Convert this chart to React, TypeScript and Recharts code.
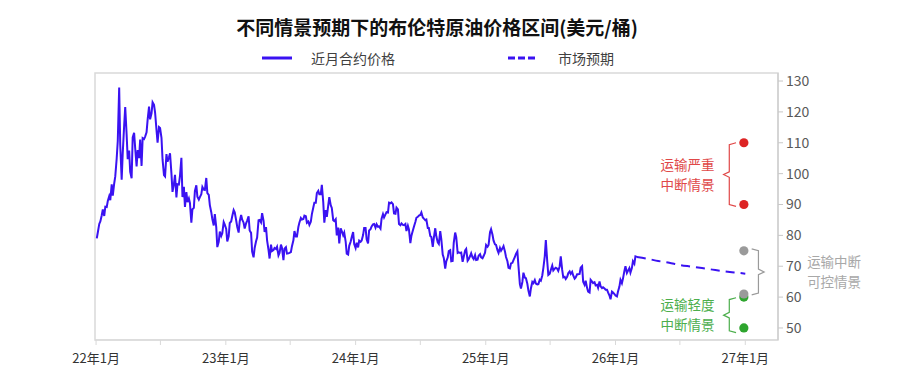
import React from 'react';
import { ComposedChart, Line, Scatter, XAxis, YAxis, ReferenceArea, ReferenceDot } from 'recharts';

const FONT = '"Noto Sans CJK SC", "Noto Sans", sans-serif';

// 布伦特近月合约价格：每周两个点（周一、周四），第一周从 2022-01-03 开始
const priceStart = '2022-01-03';
const prices2022 = [
  79.0, 81.0, 83.7, 84.5, 86.5, 88.4, 86.3, 89.3, 89.2, 91.1,
  92.7, 91.4, 96.5, 92.9, 96.8, 99.1, 104.9, 110.5,
  127.9, 109.3, 98.0, 106.6, 115.6, 121.6, 112.5, 104.7,
  107.5, 100.6, 98.5, 111.7, 113.2, 108.3, 102.3, 107.6,
  105.0, 111.0, 102.5, 111.5, 111.2, 112.0, 113.4, 117.4, 121.7, 117.6,
  119.5, 123.1, 122.3, 119.8, 114.1, 110.0, 115.1, 114.8,
  111.6, 104.6, 99.5, 99.1, 106.3, 103.9, 105.2, 106.6,
  100.0, 94.1, 96.7, 99.6, 92.3, 96.6, 96.5, 99.3, 105.1, 92.4,
  95.7, 89.2, 94.0, 90.8, 92.0, 90.5, 84.1, 88.5,
  88.9, 94.4, 96.2, 92.5, 91.6, 92.4, 93.3, 95.7, 94.8, 94.7,
  98.6, 93.7, 93.1, 89.8, 87.5, 85.3, 83.2, 86.9,
  82.7, 76.2, 77.9, 81.2, 79.8, 80.7, 84.3, 83.5,
];
const prices2023 = [
  82.1, 78.0, 79.7, 84.0, 84.5, 86.2, 88.2, 87.5, 84.9, 82.8,
  80.9, 84.5, 86.6, 85.1, 84.1, 82.2, 83.9, 84.8,
  86.2, 81.6, 80.8, 74.7, 72.9, 75.9, 78.1, 79.3,
  84.9, 85.0, 84.2, 87.2, 84.8, 81.1, 82.7, 78.4,
  75.3, 72.5, 77.0, 74.9, 75.2, 75.9, 75.6, 76.3, 73.5, 74.3,
  77.0, 75.9, 72.0, 75.7, 76.2, 74.1, 74.2, 74.3,
  74.6, 76.5, 78.4, 81.4, 79.6, 79.6, 82.7, 84.2, 85.6, 85.1,
  85.3, 86.4, 86.2, 84.1, 84.5, 83.4, 84.4, 86.9,
  89.0, 90.6, 90.6, 93.7, 94.4, 93.3, 93.3, 96.4,
  90.7, 84.1, 88.2, 86.0, 89.7, 92.4, 89.8, 88.9, 84.9, 84.6,
  85.2, 80.0, 82.5, 77.4, 82.3, 81.4, 80.0, 80.9,
  78.0, 74.1, 73.8, 76.6, 77.9, 79.4, 81.1, 77.2,
];
const prices2024 = [
  75.9, 77.6, 76.1, 78.3, 77.9, 78.3, 80.1, 82.4, 82.4, 78.7,
  77.4, 81.6, 82.0, 82.9, 83.6, 83.7, 82.5, 83.6,
  82.8, 82.9, 82.2, 85.4, 86.9, 85.8, 86.8, 87.5,
  87.4, 90.6, 90.4, 90.7, 90.1, 87.1, 87.0, 89.0, 88.4, 83.7,
  83.3, 83.9, 83.4, 83.3, 83.7, 81.4, 83.1, 81.9,
  77.5, 79.9, 81.6, 82.8, 84.3, 85.7, 86.0, 86.4,
  86.6, 87.4, 85.8, 85.4, 84.9, 85.1, 82.4, 82.4, 79.8, 79.5,
  76.3, 79.2, 82.3, 79.7, 77.7, 77.2, 81.4, 78.8,
  73.8, 72.7, 69.2, 71.6, 72.8, 74.9, 75.2, 71.6, 71.7, 77.6,
  80.9, 79.4, 74.3, 74.5, 74.3, 74.4, 71.4, 73.0,
  75.1, 75.6, 71.8, 72.3, 73.3, 74.2, 72.8, 72.3,
  73.6, 72.0, 72.1, 73.4, 73.9, 72.9, 72.6, 73.3, 74.4, 76.9,
];
const prices2025 = [
  76.3, 76.9, 81.0, 82.0, 80.2, 78.3, 77.1, 76.9,
  75.2, 74.3, 75.9, 75.0, 75.8, 76.5, 74.8, 73.0,
  71.6, 69.5, 69.3, 70.9, 71.1, 72.0, 73.0, 74.0, 74.8, 70.1,
  64.2, 62.8, 64.9, 67.9, 66.3, 66.1, 64.3, 62.1,
  60.2, 62.8, 64.9, 64.5, 65.5, 64.4, 64.1, 64.2,
  65.6, 65.3, 67.0, 69.4, 73.2, 78.5, 71.5, 67.2, 67.6, 68.8,
  70.2, 68.6, 69.2, 69.5, 69.2, 68.5, 70.0, 73.2,
  68.8, 66.4, 66.6, 65.9, 66.6, 67.7, 68.3, 67.5,
  68.2, 67.0, 66.0, 66.4, 67.4, 67.4, 67.5, 69.5, 70.0, 65.0,
  64.0, 65.3, 63.0, 61.8, 61.5, 65.6, 65.0, 64.5,
  64.8, 63.8, 64.0, 63.0, 65.1, 63.5, 62.9, 63.2,
  62.8, 62.4, 62.4, 61.5, 60.5, 59.3, 61.8, 61.5, 61.0, 60.5,
];
const prices2026 = [
  60.2, 61.8, 63.4, 65.6, 64.5, 66.0, 68.5, 70.0,
  67.8, 68.5, 69.4, 67.9, 69.4, 71.6, 70.8, 73.2,
  73.0,
];

// 市场预期（远期曲线）
const forecastDates = [
  '2026-03-02', '2026-04-01', '2026-05-01', '2026-06-01', '2026-07-01', '2026-08-01',
  '2026-09-01', '2026-10-01', '2026-11-01', '2026-12-01', '2027-01-01',
];
const forecastValues = [73.0, 72.4, 71.7, 71.1, 70.4, 69.9, 69.4, 68.9, 68.4, 68.0, 67.6];

// 情景区间
const scenarioDate = '2026-12-28';
const severeValues = [110, 90];
const controlledValues = [75, 61];
const mildValues = [60, 50];

const yTicks = [50, 60, 70, 80, 90, 100, 110, 120, 130];
const xTickDates = [
  '2022-01-01', '2022-07-01', '2023-01-01', '2023-07-01', '2024-01-01', '2024-07-01',
  '2025-01-01', '2025-07-01', '2026-01-01', '2026-07-01', '2027-01-01',
];

const DAY = 86400000;
const ORIGIN = Date.parse('2022-01-01');
const dayOf = (s: string) => (Date.parse(s) - ORIGIN) / DAY;

const X_MIN = -3;
const X_MAX = 1918;
const Y_MIN = 46.1;
const Y_MAX = 132.6;

const LINE_BLUE = '#3a12f2';
const RED = '#dd2424';
const RED_TEXT = '#e04848';
const GRAY = '#9a9a9a';
const GRAY_TEXT = '#a8a8a8';
const GREEN = '#2ea52e';
const GREEN_TEXT = '#4cae4c';

const allPrices = [...prices2022, ...prices2023, ...prices2024, ...prices2025, ...prices2026];
const startDay = dayOf(priceStart);
const priceData = allPrices.map((y, i) => ({ x: startDay + Math.floor(i / 2) * 7 + (i % 2) * 3, y }));
const forecastData = forecastDates.map((d, i) => ({ x: dayOf(d), y: forecastValues[i] }));

const sx = dayOf(scenarioDate);
const pts = (vals: number[]) => vals.map((y) => ({ x: sx, y }));

// 花括号：dir = -1 在点的左侧，1 在右侧（单位：天）
const brace = (top: number, bottom: number, dir: number) => {
  const hook = sx + dir * 22;
  const vert = sx + dir * 41;
  const tip = sx + dir * 57;
  const mid = (top + bottom) / 2;
  return [
    { x: hook, y: top },
    { x: vert, y: top - 0.6 },
    { x: vert, y: mid + 0.9 },
    { x: tip, y: mid },
    { x: vert, y: mid - 0.9 },
    { x: vert, y: bottom + 0.6 },
    { x: hook, y: bottom },
  ];
};

const severeBrace = brace(110, 89.4, -1);
const controlledBrace = brace(75.6, 60.7, 1);
const mildBrace = brace(59.8, 48.5, -1);

const dot = (color: string) => (props: any) => (
  <circle cx={props.cx} cy={props.cy} r={4.6} fill={color} />
);

const label = (lines: string[], color: string, side: 'left' | 'right') => (props: any) => {
  const { cx, cy } = props;
  const x = side === 'left' ? cx - 9 : cx + 43;
  const anchor = side === 'left' ? 'end' : 'start';
  return (
    <g>
      <text x={x} y={cy - 5} textAnchor={anchor} fill={color} fontSize={13.5} fontFamily={FONT}>{lines[0]}</text>
      <text x={x} y={cy + 15} textAnchor={anchor} fill={color} fontSize={13.5} fontFamily={FONT}>{lines[1]}</text>
    </g>
  );
};

const App: React.FC = () => {
  return (
    <div style={{ position: 'absolute', left: 0, top: 0, width: 900, height: 388, background: '#fff', fontFamily: FONT }}>
      <div style={{ position: 'absolute', left: 0, top: 14, width: 874, textAlign: 'center', fontSize: 19, fontWeight: 600, color: '#111', lineHeight: '26px' }}>
        不同情景预期下的布伦特原油价格区间(美元/桶)
      </div>
      <svg style={{ position: 'absolute', left: 262, top: 52 }} width={32} height={12}>
        <line x1={0} y1={6} x2={30} y2={6} stroke={LINE_BLUE} strokeWidth={3} />
      </svg>
      <div style={{ position: 'absolute', left: 311, top: 48, fontSize: 14, color: '#404040', lineHeight: '20px' }}>近月合约价格</div>
      <svg style={{ position: 'absolute', left: 508, top: 52 }} width={32} height={12}>
        <line x1={0} y1={6} x2={30} y2={6} stroke={LINE_BLUE} strokeWidth={3} strokeDasharray="7 3" />
      </svg>
      <div style={{ position: 'absolute', left: 558, top: 48, fontSize: 14, color: '#404040', lineHeight: '20px' }}>市场预期</div>

      <div style={{ position: 'absolute', left: 0, top: 0 }}>
        <ComposedChart width={900} height={388} margin={{ top: 73, right: 72, left: 95, bottom: 18 }}>
          <XAxis
            type="number"
            dataKey="x"
            domain={[X_MIN, X_MAX]}
            ticks={xTickDates.map(dayOf)}
            tickFormatter={(v: number) => {
              const d = new Date(ORIGIN + v * DAY);
              if (d.getUTCMonth() !== 0) return '';
              return `${String(d.getUTCFullYear()).slice(2)}年1月`;
            }}
            height={30}
            tickSize={5}
            tickMargin={9}
            axisLine={{ stroke: '#d9d9d9' }}
            tickLine={{ stroke: '#d9d9d9' }}
            tick={{ fill: '#333', fontSize: 13, fontFamily: FONT }}
            allowDataOverflow
          />
          <YAxis
            type="number"
            orientation="right"
            domain={[Y_MIN, Y_MAX]}
            ticks={yTicks}
            width={50}
            tickSize={5}
            tickMargin={3}
            axisLine={{ stroke: '#c8c8c8' }}
            tickLine={{ stroke: '#c8c8c8' }}
            tick={{ fill: '#595959', fontSize: 14, fontFamily: FONT }}
            allowDataOverflow
          />
          <ReferenceArea x1={X_MIN} x2={X_MAX} y1={Y_MIN} y2={Y_MAX} fill="none" stroke="#d9d9d9" strokeWidth={1.5} />
          <Line data={priceData} dataKey="y" type="linear" stroke={LINE_BLUE} strokeWidth={2} dot={false} isAnimationActive={false} />
          <Line data={forecastData} dataKey="y" type="monotone" stroke={LINE_BLUE} strokeWidth={2} strokeDasharray="9 6" dot={false} isAnimationActive={false} />

          <Line data={severeBrace} dataKey="y" type="linear" stroke={RED_TEXT} strokeWidth={1.2} dot={false} isAnimationActive={false} />
          <Line data={controlledBrace} dataKey="y" type="linear" stroke={GRAY} strokeWidth={1.2} dot={false} isAnimationActive={false} />
          <Line data={mildBrace} dataKey="y" type="linear" stroke={GREEN_TEXT} strokeWidth={1.2} dot={false} isAnimationActive={false} />

          <Scatter data={pts(severeValues)} dataKey="y" shape={dot(RED)} isAnimationActive={false} />
          <Scatter data={pts(mildValues)} dataKey="y" shape={dot(GREEN)} isAnimationActive={false} />
          <Scatter data={pts(controlledValues)} dataKey="y" shape={dot(GRAY)} isAnimationActive={false} />

          <ReferenceDot x={severeBrace[3].x} y={severeBrace[3].y} ifOverflow="visible" shape={label(['运输严重', '中断情景'], RED_TEXT, 'left')} />
          <ReferenceDot x={controlledBrace[3].x} y={controlledBrace[3].y} ifOverflow="visible" shape={label(['运输中断', '可控情景'], GRAY_TEXT, 'right')} />
          <ReferenceDot x={mildBrace[3].x} y={mildBrace[3].y} ifOverflow="visible" shape={label(['运输轻度', '中断情景'], GREEN_TEXT, 'left')} />
        </ComposedChart>
      </div>
    </div>
  );
};

export default App;
